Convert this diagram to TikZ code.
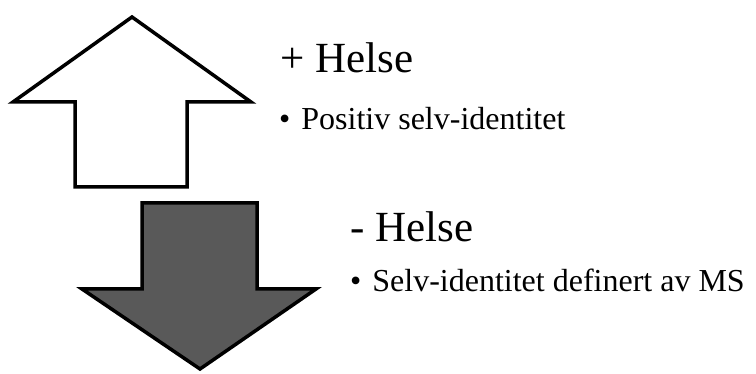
\documentclass[tikz,border=0pt]{standalone}
\usepackage{fontspec}
\setmainfont{Liberation Serif}
\definecolor{downgray}{RGB}{89,89,89}
\newcommand{\smallbullet}{\textbullet\hspace{11pt}}
\tikzset{
  bigarrow/.style={line width=3.5pt,line join=miter},
  heading/.style={anchor=base west,inner sep=0pt,font=\fontsize{43}{50}\selectfont},
  bulletitem/.style={anchor=base west,inner sep=0pt,font=\fontsize{32}{38}\selectfont}
}
\begin{document}
\begin{tikzpicture}[x=1pt,y=-1pt]
\useasboundingbox (0,0) rectangle (756,374);
%up arrow
\draw[bigarrow,fill=white](132,17)--(251,102)--(187,102)--(187,187)--(75,187)--(75,102)--(13,102)--cycle;
%down arrow
\draw[bigarrow,fill=downgray](142,203)--(257,203)--(257,289)--(316,289)--(200,369)--(82,289)--(142,289)--cycle;
%texts
\node[heading](plus)at(280,73){+ Helse};
\node[bulletitem](pos)at(279,130){\smallbullet Positiv selv-identitet};
\node[heading](minus)at(350,242){- Helse};
\node[bulletitem](self)at(350,292){\smallbullet Selv-identitet definert av MS};
\end{tikzpicture}
\end{document}
